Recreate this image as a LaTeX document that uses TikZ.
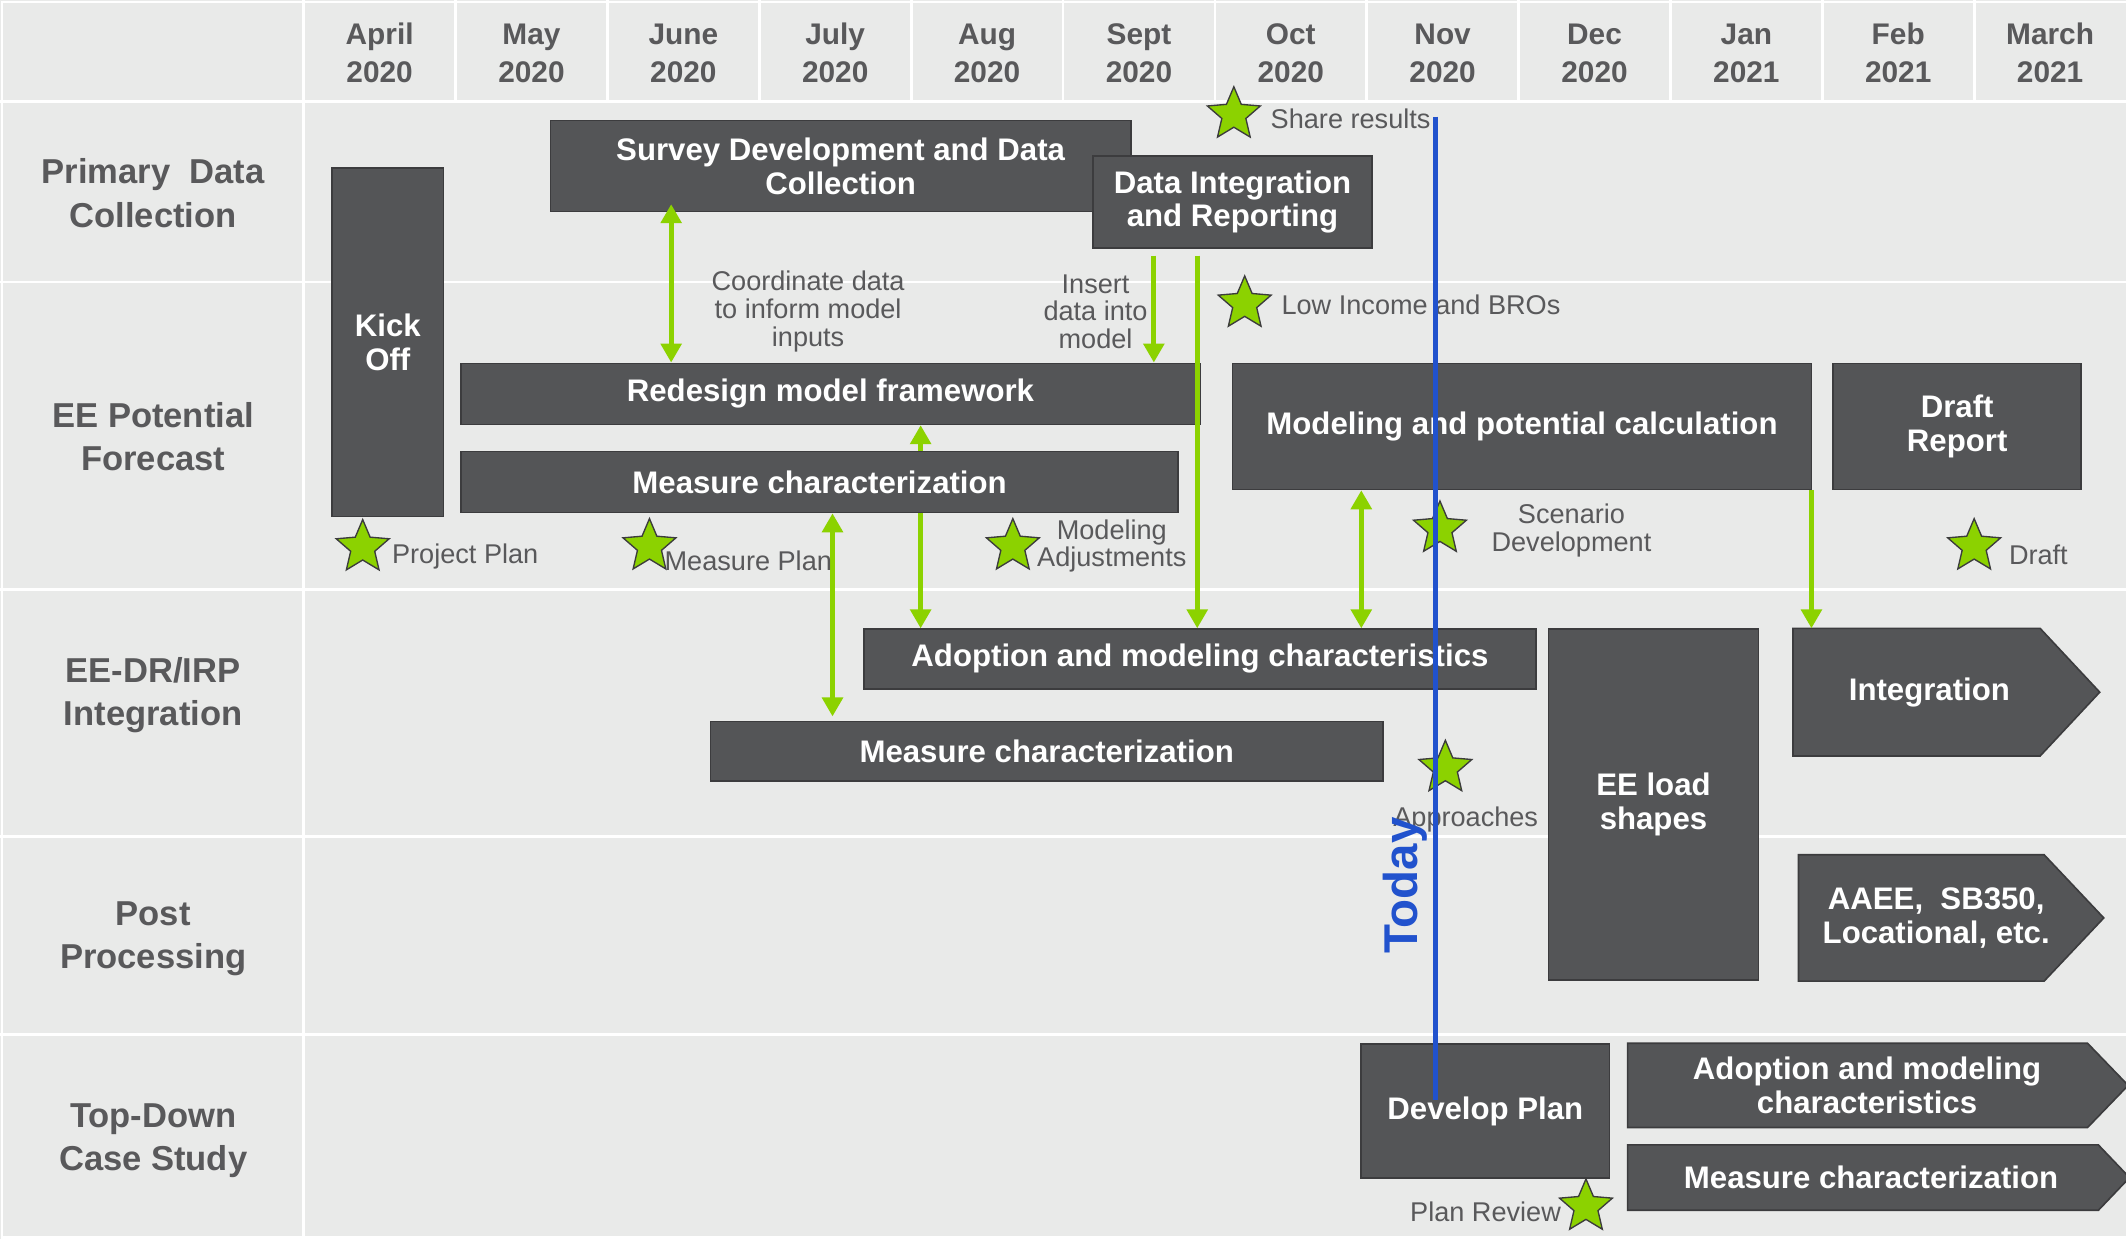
\documentclass[tikz,border=0pt]{standalone}
\usepackage{fontspec}
\setmainfont{Liberation Sans}
\usetikzlibrary{arrows.meta, shapes.geometric, calc, backgrounds}
\definecolor{gridbg}{RGB}{233,234,233}
\definecolor{labgray}{RGB}{89,89,91}
\definecolor{barfill}{RGB}{84,85,87}
\definecolor{barline}{RGB}{60,60,62}
\definecolor{mgreen}{RGB}{140,210,0}
\definecolor{starline}{RGB}{60,60,60}
\definecolor{todayblue}{RGB}{33,82,205}
\tikzset{
  sz/.style 2 args={minimum width=#1pt, minimum height=#2pt},
  bar/.style={draw=barline, fill=barfill, line width=1.2pt, text=white, inner sep=0pt,
    align=center, font=\bfseries\fontsize{23}{25}\selectfont},
  chev/.style={bar, draw=none, fill=none},
  chevshape/.style={draw=barline, fill=barfill, line width=1.2pt, line join=miter},
  month/.style={text=labgray, inner sep=0pt, align=center, font=\bfseries\fontsize{22}{28}\selectfont},
  rowlab/.style={text=labgray, inner sep=0pt, align=center, font=\bfseries\fontsize{25.5}{32}\selectfont},
  note/.style={text=labgray, inner sep=0pt, align=center, font=\fontsize{20}{20.5}\selectfont},
  mstar/.style={star, star points=5, star point ratio=2.2, minimum size=41pt, inner sep=0pt,
    fill=mgreen, draw=starline, line width=1pt},
  gpto/.style={-{Triangle[width=15pt,length=14pt]}, line width=3.7pt, draw=mgreen},
  gboth/.style={{Triangle[width=15pt,length=14pt]}-{Triangle[width=15pt,length=14pt]}, line width=3.7pt, draw=mgreen},
  gridline/.style={draw=white, line width=2pt},
  todayline/.style={draw=todayblue, line width=3.7pt},
  todaytxt/.style={text=todayblue, inner sep=0pt, rotate=90, font=\bfseries\fontsize{35}{35}\selectfont}
}

\begin{document}
\begin{tikzpicture}[x=1pt, y=-1pt]
  \useasboundingbox (0,0) rectangle (1568,914);

  % table
  \begin{scope}[on background layer]
    \fill[gridbg] (0,0) rectangle (1568,914);
    \foreach \y in {75,208,435,617,763}
      \draw[gridline] (0,\y) -- (1568,\y);
    \foreach \x in {336,448,...,1456}
      \draw[gridline] (\x,0) -- (\x,75);
    \draw[gridline] (224,0) -- (224,914);
    \draw[gridline] (1568,1.5) -- (1.5,1.5) -- (1.5,912.5) -- (1568,912.5);
  \end{scope}

  % months
  \foreach \mon/\yr [count=\i from 0] in {April/2020, May/2020, June/2020, July/2020, Aug/2020,
      Sept/2020, Oct/2020, Nov/2020, Dec/2020, Jan/2021, Feb/2021, March/2021}
    \node[month] (m\i) at (280+112*\i,39.3) {\mon\\\yr};

  % rows
  \node[rowlab] (rprim) at (113,142.5) {Primary~ Data\\Collection};
  \node[rowlab] (rfore) at (113,322) {EE Potential\\Forecast};
  \node[rowlab] (rinteg) at (113,512.5) {EE-DR/IRP\\Integration};
  \node[rowlab] (rpost) at (113,692.5) {Post\\Processing};
  \node[rowlab] (rtop) at (113,841.5) {Top-Down\\Case Study};

  % tasks
  \node[bar, sz={82}{257}] (kick) at (286,252.5) {Kick\\Off};
  \node[bar, sz={428}{67}] (survey) at (620,122.5) {Survey Development and Data\\Collection};
  \node[bar, sz={206}{68}] (dataint) at (909,149) {Data Integration\\and Reporting};
  \node[bar, sz={545}{45}] (redesign) at (612.5,290.5) {Redesign model framework};
  \node[bar, sz={529}{45}] (meas2) at (604.5,355.5) {Measure characterization};
  \node[bar, sz={427}{93}] (modeling) at (1122.5,314.5) {Modeling and potential calculation};
  \node[bar, sz={183}{93}] (draft) at (1443.5,314.5) {Draft\\Report};
  \node[bar, sz={496}{44}] (adopt3) at (885,486) {Adoption and modeling characteristics};
  \node[bar, sz={496}{44}] (meas3) at (772,554) {Measure characterization};
  \node[bar, sz={155}{259}] (loadshp) at (1219.5,593.5) {EE load\\shapes};
  \node[bar, sz={183}{99}] (devplan) at (1095.5,819.5) {Develop Plan};

  \node[chev, sz={181}{93}] (integ) at (1423,510.5) {Integration};
  \node[chev, sz={180}{92}] (aaee) at (1428,677) {AAEE,~ SB350,\\Locational, etc.};
  \node[chev, sz={338}{61}] (adopt5) at (1377,800.5) {Adoption and modeling\\characteristics};
  \node[chev, sz={346}{47}] (meas5) at (1380,868.5) {Measure characterization};
  \begin{scope}[on background layer]
    \foreach \n/\s/\d in {integ/9.5/44, aaee/11/44, adopt5/7/30, meas5/6/23}
      \filldraw[chevshape] ([xshift=-\s pt]\n.north west) -- ([xshift=-\s pt]\n.north east)
        -- ([xshift=\d pt-\s pt]\n.east) -- ([xshift=-\s pt]\n.south east)
        -- ([xshift=-\s pt]\n.south west) -- cycle;
  \end{scope}

  % hand-offs
  \coordinate (xa) at (495,0);
  \coordinate (xb) at (679,0);
  \coordinate (xc) at (614,0);
  \coordinate (xd) at (851,0);
  \coordinate (xe) at (883,0);
  \coordinate (xf) at (1004,0);
  \coordinate (xg) at (1336,0);
  \draw[gboth, shorten <=-6pt] (survey.south -| xa) -- (redesign.north -| xa);
  \draw[gpto] (meas2.north -| xb) -- (redesign.south -| xb);
  \draw[gpto] (meas2.south -| xb) -- (adopt3.north -| xb);
  \draw[gboth, shorten >=3pt] (meas2.south -| xc) -- (meas3.north -| xc);
  \draw[gpto, shorten <=5pt] (dataint.south -| xd) -- (redesign.north -| xd);
  \draw[gpto, shorten <=5pt] (dataint.south -| xe) -- (adopt3.north -| xe);
  \draw[gboth] (modeling.south -| xf) -- (adopt3.north -| xf);
  \draw[gpto] (modeling.south -| xg) -- (integ.north -| xg);

  \node[note] (tcoord) at (596,229.8) {Coordinate data\\to inform model\\inputs};
  \node[note] (tinsert) at (808,229.9) {Insert\\data into\\model};

  % milestones
  \node[mstar] (sshare) at (910,84.5) {};
  \node[note, anchor=base west] (lshare) at (937,94.6) {Share results};
  \node[mstar] (slow) at (918,224) {};
  \node[note, anchor=base west] (llow) at (945,232.3) {Low Income and BROs};
  \node[mstar] (sproj) at (267.5,403.7) {};
  \node[note, anchor=base west] (lproj) at (289,415.3) {Project Plan};
  \node[mstar] (smplan) at (479,403) {};
  \node[note, anchor=base west] (lmplan) at (490,420.8) {Measure Plan};
  \node[mstar] (sadj) at (747,403) {};
  \node[note] (ladj) at (820,402.6) {Modeling\\Adjustments};
  \node[mstar] (sscen) at (1062,390) {};
  \node[note] (lscen) at (1159,391.5) {Scenario\\Development};
  \node[mstar] (sdraft) at (1456,403) {};
  \node[note, anchor=base west] (ldraft) at (1481.5,416) {Draft};
  \node[mstar] (sappr) at (1066,566.5) {};
  \node[note, anchor=base] (lappr) at (1081,609.4) {Approaches};
  \node[mstar] (sreview) at (1169.7,890) {};
  \node[note, anchor=base east] (lreview) at (1151.4,901) {Plan Review};

  % today marker
  \coordinate (ttop) at (1059,86);
  \coordinate (tbot) at (1059,811);
  \draw[todayline] (ttop) -- (tbot);
  \node[todaytxt] (today) at (1036.5,653) {Today};
\end{tikzpicture}
\end{document}
